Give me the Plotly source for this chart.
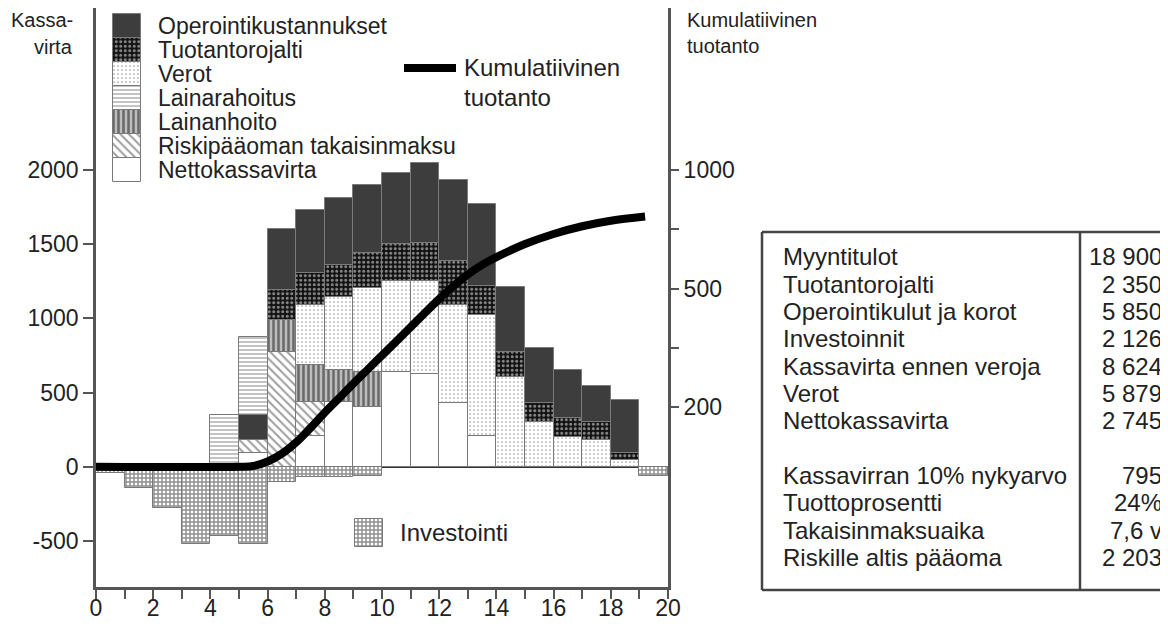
import plotly.graph_objects as go

# ---------------- data ----------------
years = list(range(20))  # bar i spans year i .. i+1

investointi   = [-45, -145, -280, -520, -465, -520, -100, -70, -70, -65, 0, 0, 0, 0, 0, 0, 0, 0, 0, -60]
nettokassa    = [0, 0, 0, 0, 0, 90, 0, 205, 435, 404, 640, 626, 431, 209, 0, 0, 0, 0, 0, 0]
riskipaaoma   = [0, 0, 0, 0, 0, 92, 775, 233, 0, 0, 0, 0, 0, 0, 0, 0, 0, 0, 0, 0]
lainanhoito   = [0, 0, 0, 0, 0, 0, 215, 250, 218, 236, 0, 0, 0, 0, 0, 0, 0, 0, 0, 0]
verot         = [0, 0, 0, 0, 0, 0, 0, 404, 492, 565, 612, 626, 660, 815, 606, 303, 202, 182, 47, 0]
tuotantorojalti = [0, 0, 0, 0, 0, 0, 202, 215, 215, 236, 248, 256, 296, 195, 170, 128, 128, 121, 47, 0]
operointi     = [0, 0, 0, 0, 0, 168, 410, 424, 450, 460, 480, 540, 546, 552, 437, 370, 323, 242, 357, 0]
lainarahoitus = [0, 0, 0, 0, 350, 527, 0, 0, 0, 0, 0, 0, 0, 0, 0, 0, 0, 0, 0, 0]

# cumulative production curve (plotted against the right axis, same vertical scale as left)
cum_x = [0, 5.0, 5.5, 6.0, 6.5, 7.0, 7.5, 8.0, 8.5, 9.0, 9.5, 10.0, 10.5, 11.0, 11.5, 12.0,
         12.5, 13.0, 13.5, 14.0, 15.0, 16.0, 17.0, 18.0, 19.2]
cum_y = [0, 0, 5, 35, 88, 165, 262, 365, 462, 560, 655, 750, 845, 940, 1037, 1130,
         1218, 1295, 1360, 1412, 1500, 1568, 1620, 1657, 1685]

left_ticks = [-500, 0, 500, 1000, 1500, 2000]
left_ticktext = ["-500", "0", "500", "1000", "1500", "2000"]
right_tickvals = [400, 800, 1200, 1600, 2000]
right_ticktext = ["200", "", "500", "", "1000"]
x_ticks = list(range(21))

legend_names = ["Operointikustannukset", "Tuotantorojalti", "Verot", "Lainarahoitus",
                "Lainanhoito", "Riskipääoman takaisinmaksu", "Nettokassavirta"]
line_name = ["Kumulatiivinen", "tuotanto"]
invest_name = "Investointi"

table_labels = ["Myyntitulot", "Tuotantorojalti", "Operointikulut ja korot", "Investoinnit",
                "Kassavirta ennen veroja", "Verot", "Nettokassavirta", "",
                "Kassavirran 10% nykyarvo", "Tuottoprosentti", "Takaisinmaksuaika",
                "Riskille altis pääoma"]
table_values = ["18 900", "2 350", "5 850", "2 126", "8 624", "5 879", "2 745", "",
                "795", "24%", "7,6 v", "2 203"]

# ---------------- styling ----------------
FONT = "Liberation Sans, Arial, sans-serif"
TXT = "#222222"
OUTLINE = "#7a7a7a"
W, H = 1168, 627          # target picture
OFF = 8                   # page body margin in the browser
PL, PR, PT, PB = 96, 668, 8, 587   # plot area in picture pixels
YMIN, YMAX = -810, 3090

styles = {
    "Operointikustannukset": dict(color="#3d3d3d", pattern=None),
    "Tuotantorojalti": dict(color="#111111", pattern=dict(shape=".", fgcolor="#ffffff", bgcolor="#111111",
                                                           size=4.5, solidity=0.35)),
    "Verot": dict(color="white", pattern=dict(shape=".", fgcolor="#444444", bgcolor="white",
                                               size=4, solidity=0.15)),
    "Lainarahoitus": dict(color="white", pattern=dict(shape="-", fgcolor="#555555", bgcolor="white",
                                                       size=4, solidity=0.35)),
    "Lainanhoito": dict(color="#bdbdbd", pattern=dict(shape="|", fgcolor="#151515", bgcolor="#bdbdbd",
                                                       size=5, solidity=0.5)),
    "Riskipääoman takaisinmaksu": dict(color="white", pattern=dict(shape="\\", fgcolor="#3a3a3a",
                                                                    bgcolor="white", size=6, solidity=0.32)),
    "Nettokassavirta": dict(color="white", pattern=None),
    "Investointi": dict(color="white", pattern=dict(shape="+", fgcolor="#222222", bgcolor="white",
                                                     size=4, solidity=0.6)),
}


def marker_for(name):
    st = styles[name]
    m = dict(color=st["color"], line=dict(color=OUTLINE, width=1))
    if st["pattern"] is not None:
        m["pattern"] = st["pattern"]
    return m


def nz(vals):
    return [v if v != 0 else None for v in vals]


fig = go.Figure()
xc = [y + 0.5 for y in years]

# stacking order bottom -> top
stack = [
    ("Nettokassavirta", nettokassa),
    ("Riskipääoman takaisinmaksu", riskipaaoma),
    ("Lainanhoito", lainanhoito),
    ("Verot", verot),
    ("Tuotantorojalti", tuotantorojalti),
    ("Operointikustannukset", operointi),
    ("Lainarahoitus", lainarahoitus),
    ("Investointi", investointi),
]
for name, vals in stack:
    fig.add_trace(go.Bar(x=xc, y=nz(vals), width=1, name=name, marker=marker_for(name),
                         showlegend=False, xaxis="x", yaxis="y"))

fig.add_trace(go.Scatter(x=cum_x, y=cum_y, mode="lines", name=" ".join(line_name),
                         line=dict(color="black", width=8, shape="spline", smoothing=1),
                         showlegend=False, xaxis="x", yaxis="y2"))

# ---------------- legend built on a pixel-scaled helper axis ----------------
LEG_FS = 23
sw_x, sw_w, sw_top, sw_h = 127, 28, 14, 24
for i, name in enumerate(legend_names):
    fig.add_trace(go.Bar(x=[sw_x], y=[sw_h], base=[sw_top + i * sw_h], width=[sw_w],
                         marker=marker_for(name), showlegend=False, hoverinfo="skip",
                         xaxis="x3", yaxis="y3"))
fig.add_trace(go.Bar(x=[369], y=[28], base=[519], width=[28], marker=marker_for("Investointi"),
                     showlegend=False, hoverinfo="skip", xaxis="x3", yaxis="y3"))
fig.add_trace(go.Scatter(x=[404, 456], y=[68, 68], mode="lines", line=dict(color="black", width=8),
                         showlegend=False, hoverinfo="skip", xaxis="x3", yaxis="y3"))

annotations = []
for i, name in enumerate(legend_names):
    annotations.append(dict(x=156, y=sw_top + (i + 0.5) * sw_h, xref="x3", yref="y3", text=name,
                            showarrow=False, xanchor="left", yanchor="middle",
                            font=dict(family=FONT, size=LEG_FS, color=TXT)))
annotations.append(dict(x=462, y=67, xref="x3", yref="y3", text=line_name[0], showarrow=False,
                        xanchor="left", yanchor="middle", font=dict(family=FONT, size=24, color=TXT)))
annotations.append(dict(x=462, y=97, xref="x3", yref="y3", text=line_name[1], showarrow=False,
                        xanchor="left", yanchor="middle", font=dict(family=FONT, size=24, color=TXT)))
annotations.append(dict(x=398, y=532, xref="x3", yref="y3", text=invest_name, showarrow=False,
                        xanchor="left", yanchor="middle", font=dict(family=FONT, size=24, color=TXT)))


def px(xp):
    return (xp - PL) / (PR - PL)


def py(yp):
    return (PB - yp) / (PB - PT)


# axis titles
for txt, yy in (("Kassa-", 20), ("virta", 47)):
    annotations.append(dict(x=px(75), y=py(yy), xref="paper", yref="paper", text=txt, showarrow=False,
                            xanchor="right", yanchor="middle", font=dict(family=FONT, size=20, color=TXT)))
for txt, yy in (("Kumulatiivinen", 20), ("tuotanto", 46)):
    annotations.append(dict(x=px(685), y=py(yy), xref="paper", yref="paper", text=txt, showarrow=False,
                            xanchor="left", yanchor="middle", font=dict(family=FONT, size=20, color=TXT)))

# table
T_L, T_R, T_T, T_B, T_D = 762, 1172, 232, 590, 1080
row0, row_h = 257, 27.3
shapes = []
for (x0, y0, x1, y1) in ((T_L, T_T, T_R, T_T), (T_L, T_B, T_R, T_B), (T_L, T_T, T_L, T_B), (T_D, T_T, T_D, T_B)):
    shapes.append(dict(type="line", xref="paper", yref="paper", x0=px(x0), y0=py(y0), x1=px(x1), y1=py(y1),
                       line=dict(color="#444444", width=2.5)))
for i, (lab, val) in enumerate(zip(table_labels, table_values)):
    yy = row0 + i * row_h
    if lab:
        annotations.append(dict(x=px(781), y=py(yy), xref="paper", yref="paper", text=lab, showarrow=False,
                                xanchor="left", yanchor="middle", font=dict(family=FONT, size=24, color=TXT)))
    if val:
        annotations.append(dict(x=px(1164), y=py(yy), xref="paper", yref="paper", text=val, showarrow=False,
                                xanchor="right", yanchor="middle", font=dict(family=FONT, size=24, color=TXT)))

axis_line = dict(showline=True, linecolor="#555555", linewidth=2.5)
fig.update_layout(
    width=W - OFF, height=H - OFF,
    margin=dict(l=PL - OFF, r=W - PR, t=PT - OFF, b=H - PB, autoexpand=False),
    paper_bgcolor="white", plot_bgcolor="white",
    barmode="relative", bargap=0,
    font=dict(family=FONT, size=24, color=TXT),
    xaxis=dict(range=[0, 20], tickvals=x_ticks,
               ticktext=[str(v) if v % 2 == 0 else "" for v in x_ticks],
               ticks="outside", ticklen=9, tickwidth=2, tickcolor="#555555",
               ticklabelstandoff=-10,
               mirror=True, showgrid=False, zeroline=False, automargin=False,
               tickfont=dict(family=FONT, size=23, color=TXT), **axis_line),
    yaxis=dict(range=[YMIN, YMAX], tickvals=left_ticks, ticktext=left_ticktext,
               ticks="outside", ticklen=10, tickwidth=2,
               tickcolor="#555555", mirror=True, showgrid=False, automargin=False,
               zeroline=True, zerolinecolor="#333333", zerolinewidth=2,
               tickfont=dict(family=FONT, size=23, color=TXT), **axis_line),
    yaxis2=dict(range=[YMIN, YMAX], overlaying="y", side="right", anchor="x",
                tickvals=right_tickvals, ticktext=right_ticktext,
                ticks="outside", ticklen=10, tickwidth=2, tickcolor="#555555",
                showgrid=False, zeroline=False, showline=False, automargin=False,
                tickfont=dict(family=FONT, size=23, color=TXT)),
    xaxis3=dict(range=[PL, PR], overlaying="x", anchor="y3", visible=False, fixedrange=True),
    yaxis3=dict(range=[PB, PT], overlaying="y", anchor="x3", visible=False, fixedrange=True),
    annotations=annotations,
    shapes=shapes,
    showlegend=False,
)

fig.write_html("out.html")
